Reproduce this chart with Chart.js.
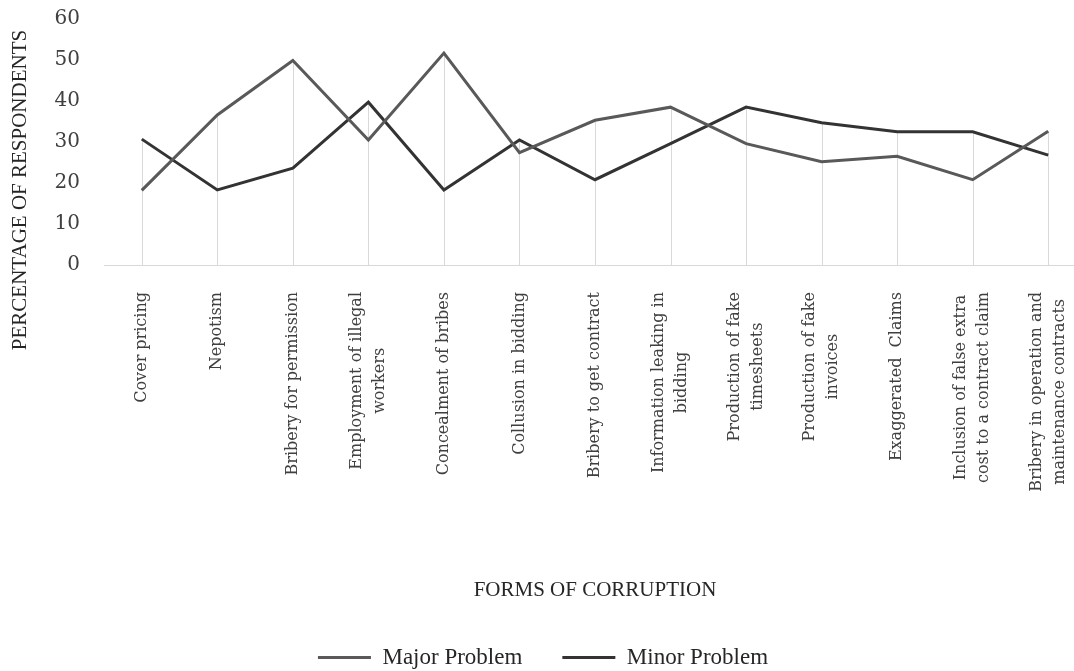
<!DOCTYPE html>
<html>
<head>
<meta charset="utf-8">
<script src="https://cdn.jsdelivr.net/npm/chart.js@4.4.0/dist/chart.umd.min.js"></script>
<style>
  html, body { margin: 0; padding: 0; background: #fff; overflow: hidden; }
  /* plot area runs a little past the right edge, as in the original */
  #wrap { width: 1086px; height: 679px; }
</style>
</head>
<body>
<div id="wrap"><canvas id="chart"></canvas></div>
<script>
// forms of corruption (x categories, wrapped like the original)
var categories = [
    ['Cover pricing'],
    ['Nepotism'],
    ['Bribery for permission'],
    ['Employment of illegal', 'workers'],
    ['Concealment of bribes'],
    ['Collusion in bidding'],
    ['Bribery to get contract'],
    ['Information leaking in', 'bidding'],
    ['Production of fake', 'timesheets'],
    ['Production of fake', 'invoices'],
    ['Exaggerated  Claims'],
    ['Inclusion of false extra', 'cost to a contract claim'],
    ['Bribery in operation and', 'maintenance contracts']
];
var majorProblem = [18.2, 36.6, 49.9, 30.5, 51.7, 27.4, 35.3, 38.5, 29.6, 25.2, 26.5, 20.8, 32.6];
var minorProblem = [30.7, 18.3, 23.6, 39.7, 18.3, 30.5, 20.8, 29.6, 38.5, 34.7, 32.5, 32.5, 26.8];
var yTicks = [0, 10, 20, 30, 40, 50, 60];
var yTitle = 'PERCENTAGE OF RESPONDENTS';

var serif = "'Liberation Serif', serif";
var tickSerif = "'DejaVu Serif', serif";

// excel style drop lines: from the highest point of each category down to the axis
var dropLines = {
    id: 'dropLines',
    beforeDatasetsDraw: function(chart) {
        var x = chart.scales.x, y = chart.scales.y, ctx = chart.ctx;
        ctx.save();
        ctx.strokeStyle = '#d9d9d9';
        ctx.lineWidth = 1;
        categories.forEach(function(c, i) {
            var top = Math.max(majorProblem[i], minorProblem[i]);
            var px = Math.round(x.getPixelForValue(i)) + 0.5;
            ctx.beginPath();
            ctx.moveTo(px, y.getPixelForValue(top));
            ctx.lineTo(px, y.getPixelForValue(0));
            ctx.stroke();
        });
        ctx.restore();
    }
};

// rotated category labels, each wrapped block centred on its category, lines centred
var categoryLabels = {
    id: 'categoryLabels',
    afterDraw: function(chart) {
        var x = chart.scales.x, ctx = chart.ctx, lh = 23;
        ctx.save();
        ctx.font = "16px 'DejaVu Serif'";
        ctx.fillStyle = '#404040';
        ctx.textAlign = 'center';
        ctx.textBaseline = 'middle';
        categories.forEach(function(lines, i) {
            var widest = Math.max.apply(null, lines.map(function(l) { return ctx.measureText(l).width; }));
            ctx.save();
            ctx.translate(x.getPixelForValue(i), x.top + 27);
            ctx.rotate(-Math.PI / 2);
            lines.forEach(function(line, j) {
                ctx.fillText(line, -widest / 2, (j - (lines.length - 1) / 2) * lh);
            });
            ctx.restore();
        });
        // y axis title, placed like the original (lower than the plot centre)
        ctx.font = "21px 'Liberation Serif'";
        ctx.fillStyle = '#262626';
        ctx.translate(20, 190);
        ctx.rotate(-Math.PI / 2);
        ctx.fillText(yTitle, 0, 0);
        ctx.restore();
    }
};

new Chart(document.getElementById('chart').getContext('2d'), {
    type: 'line',
    data: {
        labels: categories,
        datasets: [
            { label: 'Major Problem', data: majorProblem, borderColor: '#595959', backgroundColor: '#595959', borderWidth: 3, pointRadius: 0, pointStyle: 'line', tension: 0 },
            { label: 'Minor Problem', data: minorProblem, borderColor: '#333333', backgroundColor: '#333333', borderWidth: 3, pointRadius: 0, pointStyle: 'line', tension: 0 }
        ]
    },
    options: {
        responsive: true,
        maintainAspectRatio: false,
        animation: false,
        layout: { padding: { top: 19, right: 0, bottom: 0, left: 0 } },
        plugins: {
            legend: {
                position: 'bottom',
                labels: { usePointStyle: true, pointStyleWidth: 53, boxHeight: 10, padding: 40, color: '#262626', font: { family: serif, size: 23 } }
            },
            tooltip: { enabled: false }
        },
        scales: {
            x: {
                offset: true,
                grid: { display: false, drawTicks: false },
                border: { display: true, color: '#d9d9d9', width: 1 },
                ticks: { display: false },
                title: { display: true, text: 'FORMS OF CORRUPTION', color: '#262626', font: { family: serif, size: 21 }, padding: { top: 0, bottom: 3 } },
                afterFit: function(scale) { scale.height = 341; scale.paddingLeft = 0; scale.paddingRight = 0; }
            },
            y: {
                min: 0,
                max: 60,
                afterBuildTicks: function(scale) { scale.ticks = yTicks.map(function(v) { return { value: v }; }); },
                grid: { display: false, drawTicks: false },
                border: { display: false },
                ticks: { padding: 24, color: '#404040', font: { family: tickSerif, size: 20 } },
                afterFit: function(scale) { scale.width = 104; scale.paddingTop = 0; scale.paddingBottom = 0; }
            }
        }
    },
    plugins: [dropLines, categoryLabels]
});
</script>
</body>
</html>
